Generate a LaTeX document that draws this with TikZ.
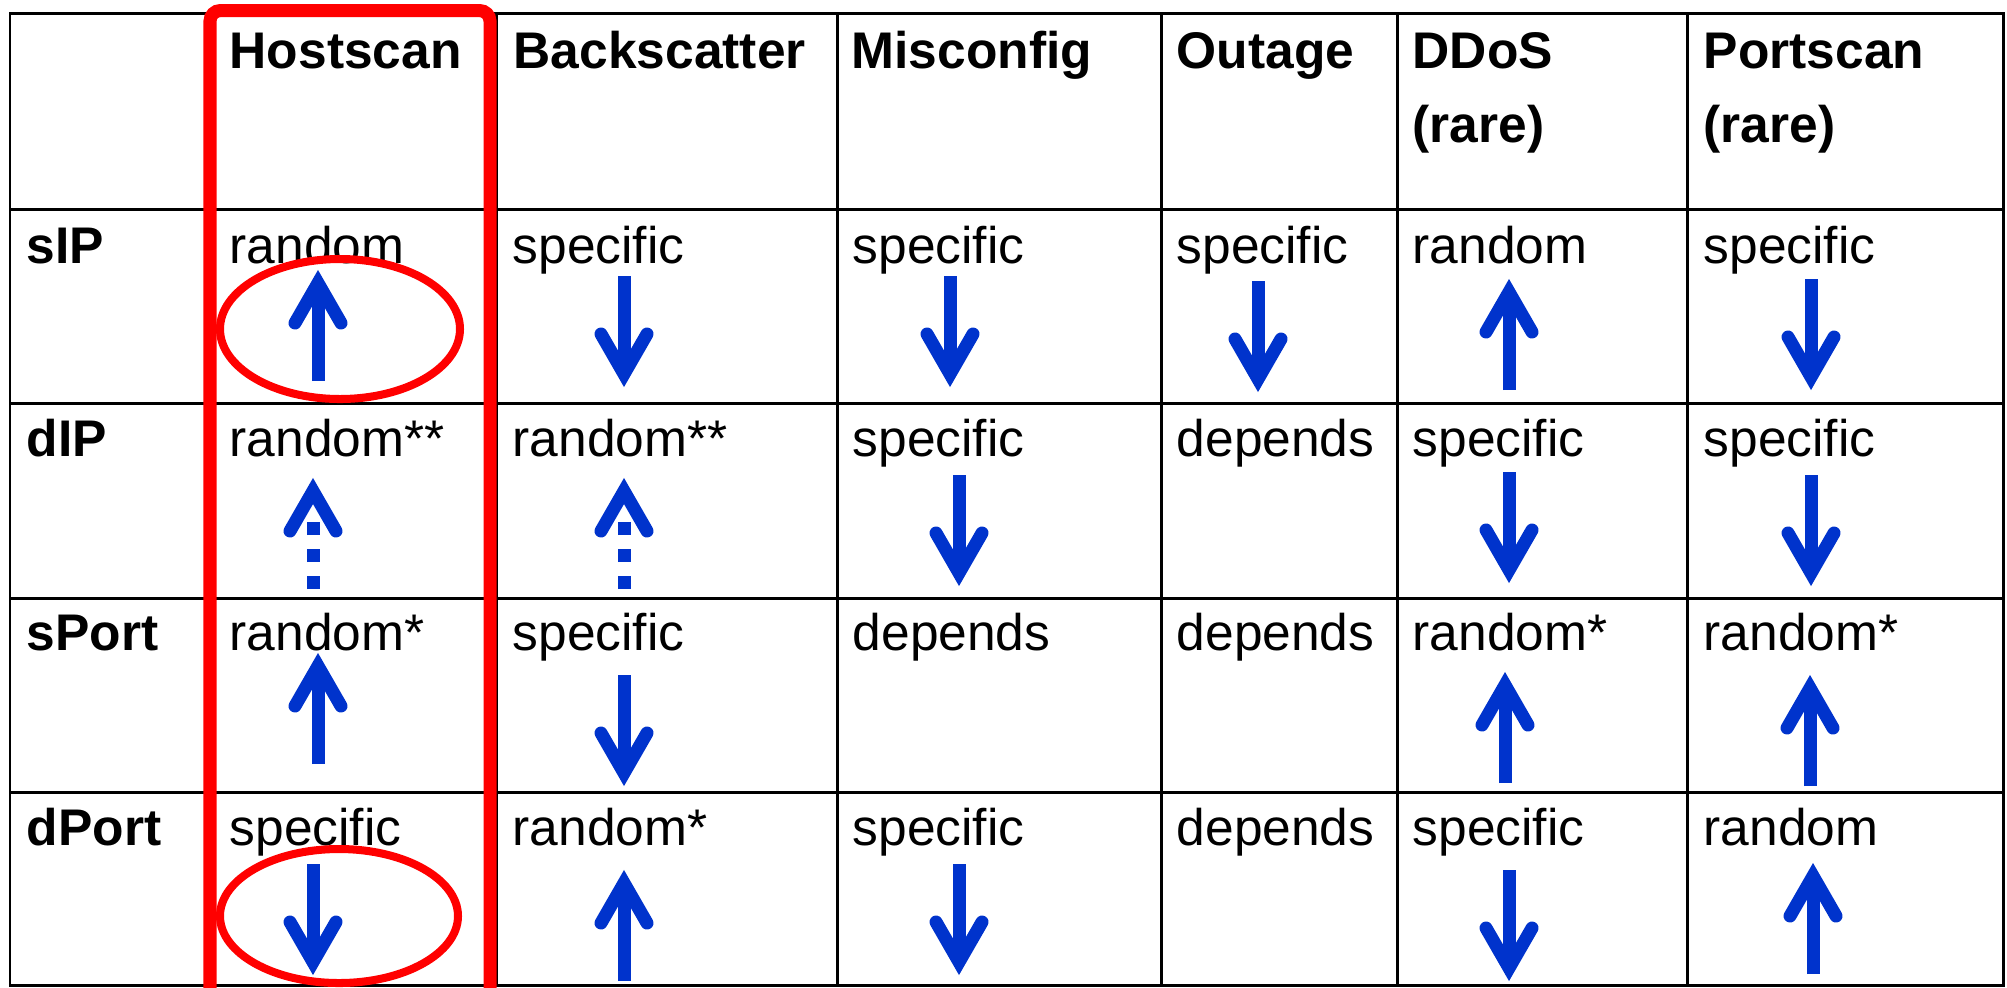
\documentclass[tikz,border=0pt]{standalone}
\usepackage{fontspec}
\setmainfont{Liberation Sans}
\definecolor{arrblue}{RGB}{0,51,204}
\tikzset{
  tablegrid/.style={line width=0.85pt, black},
  hdr/.style={anchor=base west, inner sep=0pt, font=\fontsize{14.65pt}{21pt}\selectfont\bfseries, align=left},
  cell/.style={anchor=base west, inner sep=0pt, font=\fontsize{14.65pt}{21pt}\selectfont},
  shaftline/.style={arrblue, line width=3.7pt, line cap=butt},
  headline/.style={arrblue, line width=3.7pt, line cap=round, line join=miter},
  upA/.pic={\draw[shaftline] (0,110) -- (0,12); \draw[headline] (-23,52) -- (0,12) -- (23,52);},
  downA/.pic={\draw[shaftline] (0,-110) -- (0,-12); \draw[headline] (-23,-52) -- (0,-12) -- (23,-52);},
  dupA/.pic={\draw[shaftline, dash pattern=on 3.7pt off 3.98pt] (0,110) -- (0,43); \draw[headline] (-23,52) -- (0,12) -- (23,52);},
  redbox/.style={red, line width=3.7pt, rounded corners=3pt},
  redring/.style={red, line width=2.28pt},
}
\begin{document}
\begin{tikzpicture}[x=0.01cm, y=-0.01cm]
\useasboundingbox (0,0) rectangle (2007,987);
% table grid
\draw[tablegrid] (10,13) rectangle (2003,985);
\foreach \gx in {212,496,837,1161,1397,1687} \draw[tablegrid] (\gx,13) -- (\gx,985);
\foreach \gy in {209,403,598,792} \draw[tablegrid] (10,\gy) -- (2003,\gy);
% headers
\node[hdr] (hHost) at (229,68) {Hostscan};
\node[hdr] (hBack) at (513,68) {Backscatter};
\node[hdr] (hMis) at (851,68) {Misconfig};
\node[hdr] (hOut) at (1176,68) {Outage};
\node[hdr] (hDDoS) at (1412,142) {DDoS\\(rare)};
\node[hdr] (hPort) at (1703,142) {Portscan\\(rare)};
% row labels
\node[hdr] (rsIP) at (26,263) {sIP};
\node[hdr] (rdIP) at (26,456) {dIP};
\node[hdr] (rsPort) at (26,650) {sPort};
\node[hdr] (rdPort) at (26,845) {dPort};
% sIP row
\node[cell] (c11) at (229,263) {random};
\node[cell] (c12) at (512,263) {specific};
\node[cell] (c13) at (852,263) {specific};
\node[cell] (c14) at (1176,263) {specific};
\node[cell] (c15) at (1412,263) {random};
\node[cell] (c16) at (1703,263) {specific};
% dIP row
\node[cell] (c21) at (229,456) {random**};
\node[cell] (c22) at (512,456) {random**};
\node[cell] (c23) at (852,456) {specific};
\node[cell] (c24) at (1176,456) {depends};
\node[cell] (c25) at (1412,456) {specific};
\node[cell] (c26) at (1703,456) {specific};
% sPort row
\node[cell] (c31) at (229,650) {random*};
\node[cell] (c32) at (512,650) {specific};
\node[cell] (c33) at (852,650) {depends};
\node[cell] (c34) at (1176,650) {depends};
\node[cell] (c35) at (1412,650) {random*};
\node[cell] (c36) at (1703,650) {random*};
% dPort row
\node[cell] (c41) at (229,845) {specific};
\node[cell] (c42) at (512,845) {random*};
\node[cell] (c43) at (852,845) {specific};
\node[cell] (c44) at (1176,845) {depends};
\node[cell] (c45) at (1412,845) {specific};
\node[cell] (c46) at (1703,845) {random};
% arrows sIP
\pic (a11) at (318,271) {upA};
\pic (a12) at (624,386) {downA};
\pic (a13) at (950,386) {downA};
\pic (a14) at (1258,391) {downA};
\pic (a15) at (1509,280) {upA};
\pic (a16) at (1811,389) {downA};
% arrows dIP
\pic (a21) at (313,479) {dupA};
\pic (a22) at (624,479) {dupA};
\pic (a23) at (959,585) {downA};
\pic (a25) at (1509,582) {downA};
\pic (a26) at (1811,585) {downA};
% arrows sPort
\pic (a31) at (318,654) {upA};
\pic (a32) at (624,785) {downA};
\pic (a35) at (1505,673) {upA};
\pic (a36) at (1810,676) {upA};
% arrows dPort
\pic (a41) at (313,974) {downA};
\pic (a42) at (624,871) {upA};
\pic (a43) at (959,974) {downA};
\pic (a45) at (1509,980) {downA};
\pic (a46) at (1813,864) {upA};
% highlights
\draw[redbox] (210,1000) -- (210,10.5) -- (490,10.5) -- (490,1000);
\draw[redring] (340,329) ellipse [x radius=120, y radius=70];
\draw[redring] (339,916) ellipse [x radius=119, y radius=67];
\end{tikzpicture}
\end{document}
